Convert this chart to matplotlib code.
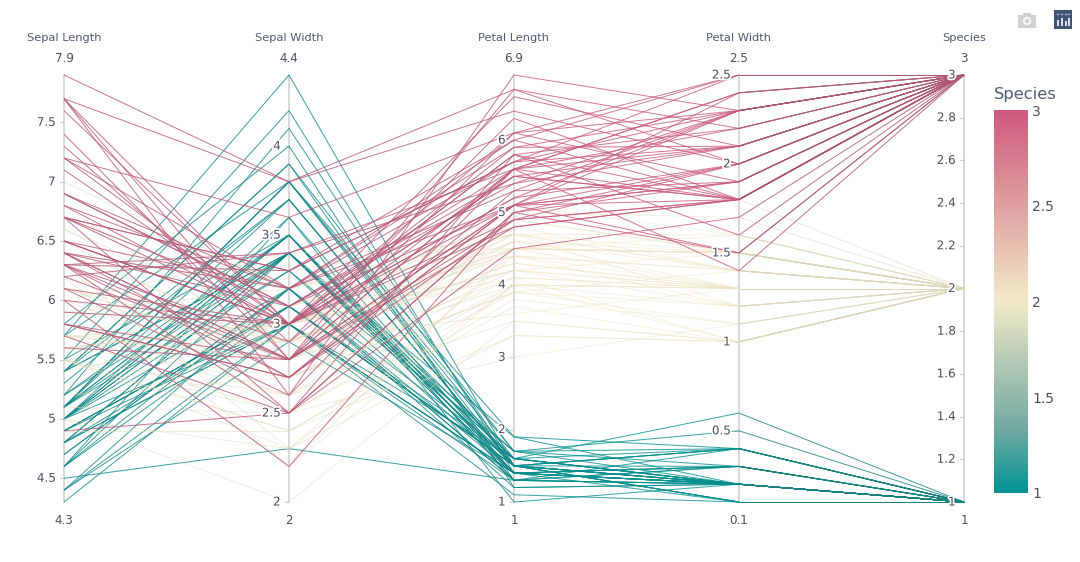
import matplotlib
matplotlib.use("Agg")
import matplotlib.pyplot as plt
import matplotlib.patheffects as pe
from matplotlib.colors import LinearSegmentedColormap, Normalize, to_rgb
from matplotlib.cm import ScalarMappable
from matplotlib.patches import Rectangle, Circle
import numpy as np

sepal_length = [5.1, 4.9, 4.7, 4.6, 5.0, 5.4, 4.6, 5.0, 4.4, 4.9, 5.4, 4.8, 4.8, 4.3, 5.8, 5.7, 5.4, 5.1, 5.7, 5.1,
                5.4, 5.1, 4.6, 5.1, 4.8, 5.0, 5.0, 5.2, 5.2, 4.7, 4.8, 5.4, 5.2, 5.5, 4.9, 5.0, 5.5, 4.9, 4.4, 5.1,
                5.0, 4.5, 4.4, 5.0, 5.1, 4.8, 5.1, 4.6, 5.3, 5.0,
                7.0, 6.4, 6.9, 5.5, 6.5, 5.7, 6.3, 4.9, 6.6, 5.2, 5.0, 5.9, 6.0, 6.1, 5.6, 6.7, 5.6, 5.8, 6.2, 5.6,
                5.9, 6.1, 6.3, 6.1, 6.4, 6.6, 6.8, 6.7, 6.0, 5.7, 5.5, 5.5, 5.8, 6.0, 5.4, 6.0, 6.7, 6.3, 5.6, 5.5,
                5.5, 6.1, 5.8, 5.0, 5.6, 5.7, 5.7, 6.2, 5.1, 5.7,
                6.3, 5.8, 7.1, 6.3, 6.5, 7.6, 4.9, 7.3, 6.7, 7.2, 6.5, 6.4, 6.8, 5.7, 5.8, 6.4, 6.5, 7.7, 7.7, 6.0,
                6.9, 5.6, 7.7, 6.3, 6.7, 7.2, 6.2, 6.1, 6.4, 7.2, 7.4, 7.9, 6.4, 6.3, 6.1, 7.7, 6.3, 6.4, 6.0, 6.9,
                6.7, 6.9, 5.8, 6.8, 6.7, 6.7, 6.3, 6.5, 6.2, 5.9]
sepal_width = [3.5, 3.0, 3.2, 3.1, 3.6, 3.9, 3.4, 3.4, 2.9, 3.1, 3.7, 3.4, 3.0, 3.0, 4.0, 4.4, 3.9, 3.5, 3.8, 3.8,
               3.4, 3.7, 3.6, 3.3, 3.4, 3.0, 3.4, 3.5, 3.4, 3.2, 3.1, 3.4, 4.1, 4.2, 3.1, 3.2, 3.5, 3.1, 3.0, 3.4,
               3.5, 2.3, 3.2, 3.5, 3.8, 3.0, 3.8, 3.2, 3.7, 3.3,
               3.2, 3.2, 3.1, 2.3, 2.8, 2.8, 3.3, 2.4, 2.9, 2.7, 2.0, 3.0, 2.2, 2.9, 2.9, 3.1, 3.0, 2.7, 2.2, 2.5,
               3.2, 2.8, 2.5, 2.8, 2.9, 3.0, 2.8, 3.0, 2.9, 2.6, 2.4, 2.4, 2.7, 2.7, 3.0, 3.4, 3.1, 2.3, 3.0, 2.5,
               2.6, 3.0, 2.6, 2.3, 2.7, 3.0, 2.9, 2.9, 2.5, 2.8,
               3.3, 2.7, 3.0, 2.9, 3.0, 3.0, 2.5, 2.9, 2.5, 3.6, 3.2, 2.7, 3.0, 2.5, 2.8, 3.2, 3.0, 3.8, 2.6, 2.2,
               3.2, 2.8, 2.8, 2.7, 3.3, 3.2, 2.8, 3.0, 2.8, 3.0, 2.8, 3.8, 2.8, 2.8, 2.6, 3.0, 3.4, 3.1, 3.0, 3.1,
               3.1, 3.1, 2.7, 3.2, 3.3, 3.0, 2.5, 3.0, 3.4, 3.0]
petal_length = [1.4, 1.4, 1.3, 1.5, 1.4, 1.7, 1.4, 1.5, 1.4, 1.5, 1.5, 1.6, 1.4, 1.1, 1.2, 1.5, 1.3, 1.4, 1.7, 1.5,
                1.7, 1.5, 1.0, 1.7, 1.9, 1.6, 1.6, 1.5, 1.4, 1.6, 1.6, 1.5, 1.5, 1.4, 1.5, 1.2, 1.3, 1.5, 1.3, 1.5,
                1.3, 1.3, 1.3, 1.6, 1.9, 1.4, 1.6, 1.4, 1.5, 1.4,
                4.7, 4.5, 4.9, 4.0, 4.6, 4.5, 4.7, 3.3, 4.6, 3.9, 3.5, 4.2, 4.0, 4.7, 3.6, 4.4, 4.5, 4.1, 4.5, 3.9,
                4.8, 4.0, 4.9, 4.7, 4.3, 4.4, 4.8, 5.0, 4.5, 3.5, 3.8, 3.7, 3.9, 5.1, 4.5, 4.5, 4.7, 4.4, 4.1, 4.0,
                4.4, 4.6, 4.0, 3.3, 4.2, 4.2, 4.2, 4.3, 3.0, 4.1,
                6.0, 5.1, 5.9, 5.6, 5.8, 6.6, 4.5, 6.3, 5.8, 6.1, 5.1, 5.3, 5.5, 5.0, 5.1, 5.3, 5.5, 6.7, 6.9, 5.0,
                5.7, 4.9, 6.7, 4.9, 5.7, 6.0, 4.8, 4.9, 5.6, 5.8, 6.1, 6.4, 5.6, 5.1, 5.6, 6.1, 5.6, 5.5, 4.8, 5.4,
                5.6, 5.1, 5.1, 5.9, 5.7, 5.2, 5.0, 5.2, 5.4, 5.1]
petal_width = [0.2, 0.2, 0.2, 0.2, 0.2, 0.4, 0.3, 0.2, 0.2, 0.1, 0.2, 0.2, 0.1, 0.1, 0.2, 0.4, 0.4, 0.3, 0.3, 0.3,
               0.2, 0.4, 0.2, 0.5, 0.2, 0.2, 0.4, 0.2, 0.2, 0.2, 0.2, 0.4, 0.1, 0.2, 0.1, 0.2, 0.2, 0.1, 0.2, 0.2,
               0.3, 0.3, 0.2, 0.6, 0.4, 0.3, 0.2, 0.2, 0.2, 0.2,
               1.4, 1.5, 1.5, 1.3, 1.5, 1.3, 1.6, 1.0, 1.3, 1.4, 1.0, 1.5, 1.0, 1.4, 1.3, 1.4, 1.5, 1.0, 1.5, 1.1,
               1.8, 1.3, 1.5, 1.2, 1.3, 1.4, 1.4, 1.7, 1.5, 1.0, 1.1, 1.0, 1.2, 1.6, 1.5, 1.6, 1.5, 1.3, 1.3, 1.3,
               1.2, 1.4, 1.2, 1.0, 1.3, 1.2, 1.3, 1.3, 1.1, 1.3,
               2.5, 1.9, 2.1, 1.8, 2.2, 2.1, 1.7, 1.8, 1.8, 2.5, 2.0, 1.9, 2.1, 2.0, 2.4, 2.3, 1.8, 2.2, 2.3, 1.5,
               2.3, 2.0, 2.0, 1.8, 2.1, 1.8, 1.8, 1.8, 2.1, 1.6, 1.9, 2.0, 2.2, 1.5, 1.4, 2.3, 2.4, 1.8, 1.8, 2.1,
               2.4, 2.3, 1.9, 2.3, 2.5, 2.3, 1.9, 2.0, 2.3, 1.8]
species = [1] * 50 + [2] * 50 + [3] * 50

dim_names = ["Sepal Length", "Sepal Width", "Petal Length", "Petal Width", "Species"]
dim_min = [4.3, 2, 1, 0.1, 1]
dim_max = [7.9, 4.4, 6.9, 2.5, 3]
dim_ticks = [[4.5, 5, 5.5, 6, 6.5, 7, 7.5],
             [2, 2.5, 3, 3.5, 4],
             [1, 2, 3, 4, 5, 6],
             [0.5, 1, 1.5, 2, 2.5],
             [1, 1.2, 1.4, 1.6, 1.8, 2, 2.2, 2.4, 2.6, 2.8, 3]]
cbar_ticks = [1, 1.5, 2, 2.5, 3]
tealrose = ["#009392", "#72aaa1", "#b1c7b3", "#f1eac8", "#e5b9ad", "#d98994", "#d0587e"]
# lines go duller from panel to panel in the reference
panel_grey = [0.2, 0.2, 0.06, 0.3]

W, H = 1080, 562
TEXT = "#4a4f5a"
TITLE = "#4f5b73"

cmap = LinearSegmentedColormap.from_list("tealrose", tealrose)
norm = Normalize(1, 3)

fig = plt.figure(figsize=(W / 100, H / 100), dpi=100)
ax = fig.add_axes([64 / W, 1 - 502 / H, 900 / W, 427 / H])
ax.set_xlim(0, 4)
ax.set_ylim(0, 1)
ax.axis("off")

columns = [sepal_length, sepal_width, petal_length, petal_width, species]
scaled = np.array([(np.array(c) - lo) / (hi - lo) for c, lo, hi in zip(columns, dim_min, dim_max)])

halo = [pe.withStroke(linewidth=2.5, foreground="white")]
grey = np.array(to_rgb("#555555"))

# axis lines go under the polylines
for i in range(5):
    ax.plot([i, i], [0, 1], color="#d6d6d6", lw=1.3, zorder=1, clip_on=False)

for p in range(4):
    for row in range(scaled.shape[1]):
        base = np.array(cmap(norm(species[row]))[:3])
        g = panel_grey[p] * (0.45 if species[row] == 2 else 1)
        col = base * (1 - g) + grey * g
        a = 0.5 if species[row] == 2 else 0.8
        ax.plot([p, p + 1], [scaled[p, row], scaled[p + 1, row]], color=col, lw=0.72, alpha=a,
                zorder=2, clip_on=False, solid_capstyle="butt")

for i in range(5):
    lo, hi = dim_min[i], dim_max[i]
    for t in dim_ticks[i]:
        y = (t - lo) / (hi - lo)
        ax.plot([i - 0.018, i], [y, y], color="#cccccc", lw=0.8, zorder=1, clip_on=False)
        ax.annotate(f"{t:g}", xy=(i, y), xytext=(-6, 0), textcoords="offset points",
                    ha="right", va="center", fontsize=8.6, color=TEXT, zorder=5, path_effects=halo)
    ax.annotate(dim_names[i], xy=(i, 1), xytext=(0, 37), textcoords="offset pixels",
                ha="center", va="center", fontsize=8.2, color=TITLE)
    ax.annotate(f"{hi:g}", xy=(i, 1), xytext=(0, 16), textcoords="offset pixels",
                ha="center", va="center", fontsize=8.6, color=TEXT)
    ax.annotate(f"{lo:g}", xy=(i, 0), xytext=(0, -18), textcoords="offset pixels",
                ha="center", va="center", fontsize=8.6, color=TEXT)

# colorbar
cax = fig.add_axes([994 / W, 1 - 493 / H, 34 / W, 383 / H])
cb = fig.colorbar(ScalarMappable(norm=norm, cmap=cmap), cax=cax, ticks=cbar_ticks)
cb.outline.set_visible(False)
cb.ax.tick_params(length=0, pad=3, labelsize=10, labelcolor=TEXT)
cb.ax.set_yticklabels([f"{t:g}" for t in cbar_ticks])
fig.text(994 / W, 1 - 94 / H, "Species", fontsize=11.8, color=TITLE, ha="left", va="center")

# modebar icons, in pixel coords
over = fig.add_axes([0, 0, 1, 1], facecolor="none")
over.set_xlim(0, W)
over.set_ylim(H, 0)
over.axis("off")
over.add_patch(Rectangle((1018, 15), 18, 13, color="#cfd0d2", lw=0))
over.add_patch(Rectangle((1023, 12.5), 8, 3, color="#cfd0d2", lw=0))
over.add_patch(Circle((1027, 21), 4, color="white", lw=0))
over.add_patch(Circle((1027, 21), 2.3, color="#cfd0d2", lw=0))
over.add_patch(Rectangle((1054, 10), 18, 19, color="#3f5475", lw=0))
for bx, top in zip([1057.5, 1061.5, 1065.5, 1068.5], [20, 18, 21, 18]):
    over.plot([bx, bx], [top, 25.5], color="white", lw=1.2, solid_capstyle="butt")
    over.plot([bx - 0.6, bx + 0.6], [14, 14], color="#aab5c6", lw=1)

fig.savefig("out.png", dpi=100)
